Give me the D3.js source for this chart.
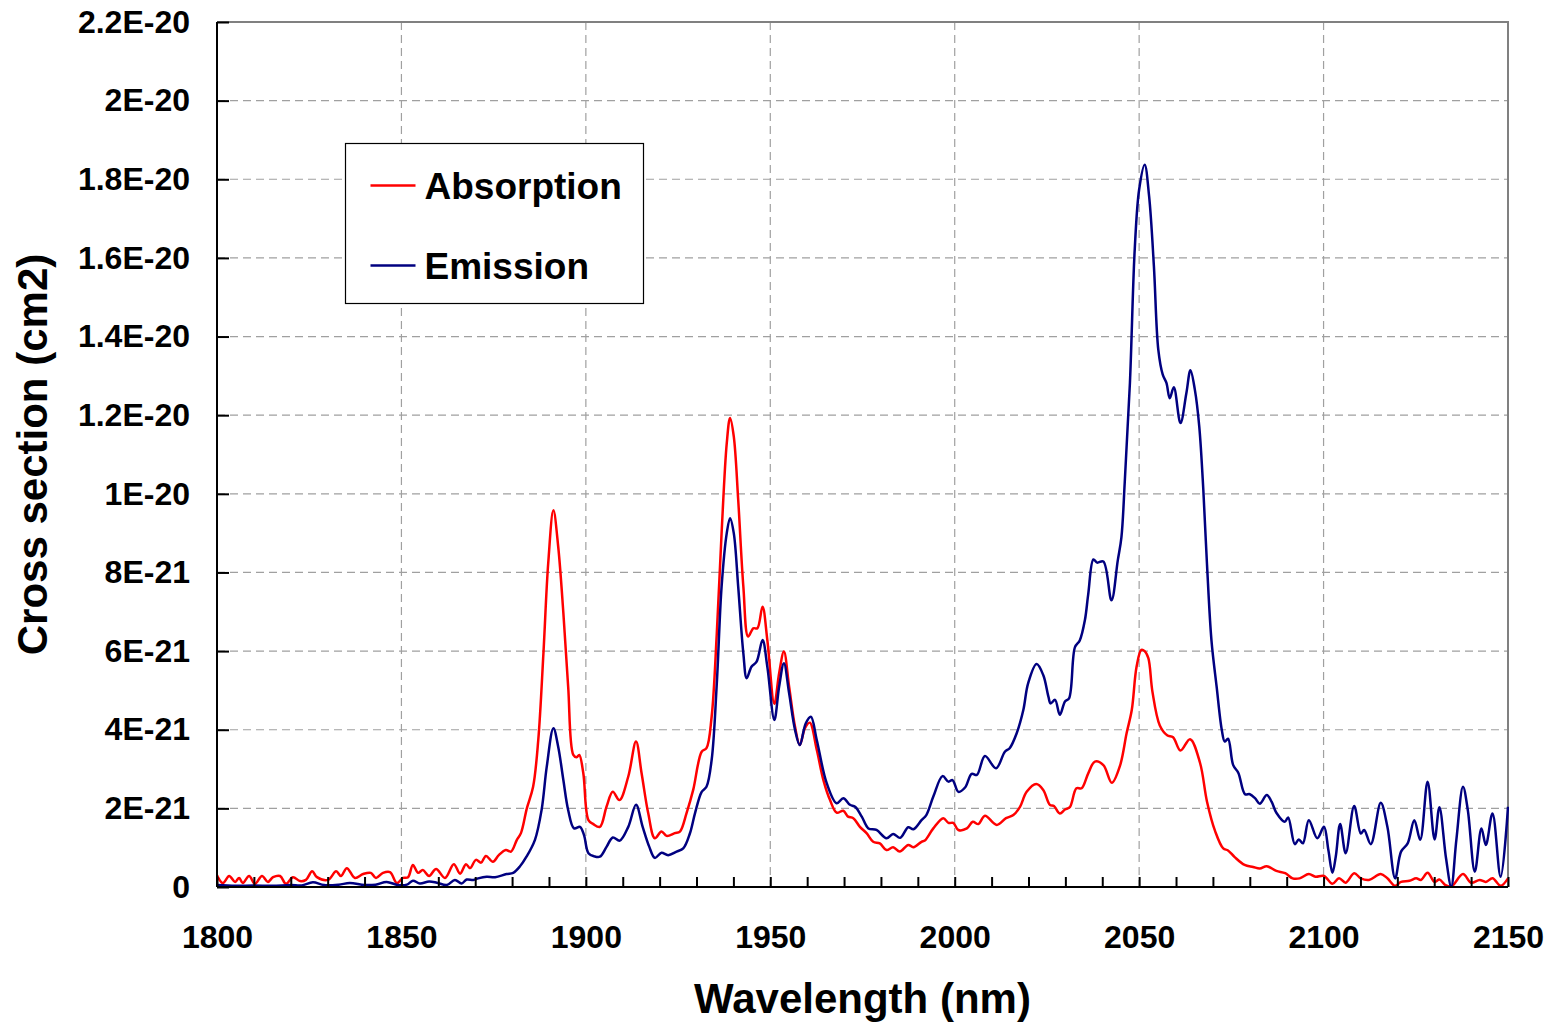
<html>
<head>
<meta charset="utf-8">
<title>Cross section</title>
<style>
body { margin: 0; background: #fff; }
svg { display: block; font-family: "Liberation Sans", Arial, sans-serif; font-weight: bold; }
.grid line { stroke: #a0a0a0; stroke-width: 1.2px; stroke-dasharray: 8,5; }
.axis path, .axis line { stroke: #000; stroke-width: 2px; }
.axis text { font-size: 32px; fill: #000; font-weight: bold; }
.curve { fill: none; stroke-width: 2.5px; stroke-linejoin: round; }
</style>
<script src="https://cdn.jsdelivr.net/npm/d3@7"></script>
</head>
<body>
<div id="chart"></div>
<script>
// values are in units of 1E-21 cm2
var absorption = [[1800,0.30],[1801.6,0.10],[1803.3,0.28],[1804.9,0.13],[1806,0.23],[1807,0.10],[1808.7,0.28],[1810.3,0.08],[1812.2,0.28],[1813.8,0.13],[1815.2,0.25],[1817.1,0.28],[1818.7,0.08],[1820.6,0.25],[1822.5,0.15],[1824.1,0.18],[1825.8,0.40],[1827.1,0.25],[1830.1,0.18],[1832.3,0.40],[1833.6,0.28],[1835.2,0.48],[1837.4,0.23],[1839.6,0.33],[1841.7,0.36],[1843.1,0.23],[1845,0.36],[1846.9,0.38],[1848.8,0.10],[1850.4,0.23],[1851.8,0.25],[1853.1,0.56],[1854.5,0.36],[1855.8,0.43],[1857.5,0.28],[1859.4,0.46],[1861.8,0.23],[1864.2,0.58],[1865.9,0.34],[1867.5,0.58],[1868.6,0.48],[1870.2,0.69],[1871.6,0.62],[1872.9,0.79],[1874.8,0.64],[1876.4,0.81],[1878.3,0.94],[1879.7,0.90],[1881.3,1.2],[1882.4,1.37],[1884,2.0],[1885.7,2.55],[1887.1,3.74],[1888.5,5.95],[1889.8,8.24],[1891.2,9.58],[1892.5,8.66],[1893.9,6.97],[1895.2,5.1],[1896.6,3.36],[1897.5,3.30],[1898.2,3.36],[1899.3,2.9],[1900.7,1.7],[1902,1.6],[1903.8,1.53],[1905.6,2.04],[1907.3,2.42],[1909.1,2.21],[1911.5,2.81],[1913.6,3.7],[1915.1,2.9],[1916.9,1.88],[1918.7,1.24],[1920.5,1.41],[1921.9,1.3],[1924.1,1.37],[1925.5,1.41],[1927.3,1.88],[1929.1,2.47],[1931.4,3.44],[1932.7,3.53],[1934.1,4.33],[1935.5,6.45],[1936.8,9.0],[1938.2,11.29],[1939.1,11.93],[1940.1,11.46],[1941.3,9.85],[1942.7,7.64],[1944,6.37],[1945.4,6.58],[1946.5,6.58],[1947.9,7.13],[1949.2,6.28],[1951.1,4.66],[1952.4,5.44],[1953.7,5.99],[1955.1,5.1],[1956.7,4.08],[1958,3.61],[1959.4,4.04],[1960.7,4.18],[1962.6,3.49],[1964.4,2.72],[1966.2,2.21],[1968,1.89],[1969.8,1.94],[1971.1,1.79],[1972.5,1.75],[1974.3,1.53],[1976.1,1.37],[1977.9,1.15],[1979.7,1.11],[1981.5,0.94],[1983.3,1.01],[1985.1,0.9],[1987.4,1.07],[1988.8,1.01],[1991,1.15],[1991.9,1.18],[1994.2,1.49],[1996.9,1.75],[1998.3,1.63],[1999.6,1.63],[2001,1.45],[2003.3,1.49],[2004.9,1.66],[2006.4,1.6],[2008.2,1.81],[2011.4,1.58],[2013.9,1.75],[2015.9,1.83],[2017.7,2.04],[2019.5,2.42],[2022.1,2.62],[2024,2.47],[2025.8,2.09],[2026.9,2.06],[2028.5,1.87],[2029.9,1.97],[2031.2,2.03],[2033,2.51],[2034.4,2.51],[2036.2,2.89],[2038,3.19],[2040.3,3.1],[2042.6,2.65],[2044.8,3.08],[2046.6,3.91],[2048,4.5],[2049.3,5.6],[2050.6,6.03],[2051.5,6.0],[2052.5,5.82],[2053.6,4.97],[2055.6,4.11],[2057.6,3.86],[2059.2,3.81],[2061.2,3.47],[2063.8,3.76],[2066.5,3.16],[2068.4,2.17],[2070.6,1.42],[2072.8,0.98],[2074.1,0.93],[2075.9,0.76],[2078.6,0.56],[2080.9,0.51],[2082.7,0.47],[2084.6,0.53],[2087.2,0.41],[2089.6,0.35],[2091.6,0.22],[2093.5,0.22],[2096,0.33],[2097.8,0.26],[2100.1,0.28],[2102.4,0.08],[2104.2,0.22],[2106,0.11],[2108.3,0.35],[2110.1,0.22],[2112.3,0.18],[2115.5,0.33],[2117.3,0.22],[2119.4,0.03],[2121,0.13],[2123.3,0.16],[2125.1,0.22],[2126.4,0.18],[2128.2,0.36],[2130.1,0.13],[2131.4,0.19],[2133,0.05],[2134.6,0.01],[2137.8,0.33],[2140,0.11],[2142.3,0.18],[2144,0.13],[2145.8,0.22],[2148,0.03],[2150,0.22]];

var emission = [[1800,0.05],[1805,0.03],[1810,0.04],[1815,0.03],[1820,0.05],[1823,0.04],[1826,0.12],[1829,0.05],[1833,0.06],[1836,0.1],[1840,0.05],[1843,0.06],[1846,0.13],[1849,0.05],[1851.5,0.06],[1853.1,0.16],[1855,0.09],[1857.5,0.14],[1859.6,0.11],[1862.3,0.05],[1864.5,0.18],[1866.3,0.09],[1867.7,0.19],[1869.5,0.18],[1870.8,0.22],[1873.1,0.26],[1875.4,0.25],[1878.5,0.33],[1880.3,0.36],[1882.1,0.52],[1883.9,0.77],[1886.2,1.2],[1888,1.96],[1889.4,3.06],[1891.2,4.04],[1892.5,3.57],[1893.9,2.72],[1895.2,1.96],[1896.8,1.49],[1898.4,1.53],[1899.5,1.32],[1900.7,0.86],[1902.3,0.78],[1903.8,0.77],[1905.6,1.02],[1907.3,1.26],[1909.2,1.18],[1911.5,1.53],[1913.6,2.09],[1915.4,1.53],[1917.2,1.02],[1918.7,0.74],[1920.5,0.87],[1922.3,0.81],[1924.6,0.9],[1926.4,0.98],[1928.2,1.36],[1929.6,1.88],[1931.4,2.42],[1932.7,2.55],[1934.1,3.23],[1935.5,5.18],[1936.8,7.64],[1938.2,9.0],[1939.1,9.38],[1940.1,9.0],[1941.3,7.64],[1942.7,5.94],[1943.6,5.31],[1944.9,5.6],[1946.3,5.73],[1947.9,6.28],[1949.2,5.6],[1951.1,4.25],[1952.4,5.1],[1953.7,5.69],[1955.1,4.93],[1956.7,4.0],[1958,3.61],[1959.6,4.16],[1961,4.33],[1962.6,3.74],[1965.3,2.64],[1968,2.13],[1969.8,2.26],[1971.6,2.09],[1973,2.04],[1974.8,1.79],[1976.6,1.49],[1978.8,1.45],[1981.5,1.24],[1983.3,1.35],[1985.2,1.25],[1987.4,1.52],[1988.8,1.47],[1991,1.7],[1992.3,1.83],[1994.2,2.3],[1996.7,2.82],[1998.3,2.68],[1999.4,2.72],[2001,2.42],[2002.8,2.53],[2004.6,2.88],[2006,2.85],[2008.2,3.33],[2011.2,3.02],[2013.6,3.44],[2014.9,3.53],[2016.8,3.91],[2018.6,4.5],[2019.9,5.18],[2022.2,5.67],[2024,5.39],[2025.4,4.84],[2026,4.67],[2027.2,4.76],[2028.5,4.38],[2029.9,4.72],[2031,4.8],[2032.6,6.1],[2033.9,6.27],[2035.3,6.79],[2036.2,7.45],[2037.6,8.33],[2038.6,8.25],[2040.3,8.28],[2042.5,7.29],[2044.2,8.3],[2045.2,8.9],[2046.1,10.3],[2047.5,12.82],[2048.8,16.21],[2050,17.74],[2051.5,18.37],[2052.7,17.57],[2054,15.79],[2055.2,13.66],[2056.4,13.03],[2057.4,12.82],[2058.3,12.43],[2059.4,12.71],[2061.2,11.8],[2062.8,12.56],[2063.9,13.14],[2065.1,12.65],[2066.3,11.71],[2067.4,10.1],[2068.4,8.2],[2069.6,6.28],[2071,5.1],[2072.4,4.0],[2073.2,3.7],[2074.1,3.77],[2075.5,3.1],[2076.9,2.9],[2078.7,2.36],[2080,2.36],[2081.4,2.26],[2082.7,2.12],[2084.6,2.34],[2085.9,2.17],[2087.2,1.89],[2089.5,1.66],[2090.4,1.77],[2092.2,1.09],[2093.3,1.21],[2094.4,1.11],[2096,1.7],[2098.3,1.24],[2100.1,1.53],[2101.3,0.94],[2102.4,0.36],[2103.3,0.77],[2104.5,1.6],[2106,0.86],[2108.3,2.06],[2110.1,1.36],[2111,1.45],[2112.8,1.09],[2115.5,2.14],[2117.3,1.53],[2119.4,0.22],[2121,0.9],[2122.8,1.11],[2124.6,1.7],[2126.2,1.2],[2128.2,2.68],[2130.1,1.21],[2131.4,2.03],[2133.2,0.73],[2134.6,0.01],[2136,1.2],[2137.8,2.55],[2139.1,1.96],[2141,0.39],[2142.8,1.49],[2144,1.07],[2145.8,1.87],[2148,0.26],[2150,2.04]];

var yTicks = [0, 2, 4, 6, 8, 10, 12, 14, 16, 18, 20, 22];
var yTickLabels = ["0", "2E-21", "4E-21", "6E-21", "8E-21", "1E-20", "1.2E-20", "1.4E-20", "1.6E-20", "1.8E-20", "2E-20", "2.2E-20"];
var xLabelTicks = [1800, 1850, 1900, 1950, 2000, 2050, 2100, 2150];
var xMinorTicks = d3.range(1800, 2151, 10);
var seriesNames = ["Absorption", "Emission"];
var seriesColors = ["#ff0000", "#000080"];

var W = 1557, H = 1024;
var margin = {top: 22, right: 49, bottom: 137, left: 217};
var width = W - margin.left - margin.right;
var height = H - margin.top - margin.bottom;

var x = d3.scaleLinear().domain([1800, 2150]).range([0, width]);
var y = d3.scaleLinear().domain([0, 22]).range([height, 0]);

var svg = d3.select('#chart').append('svg')
	.attr('width', W)
	.attr('height', H);

var g = svg.append('g').attr('transform', 'translate(' + margin.left + ',' + margin.top + ')');

// grid
g.append('g').attr('class', 'grid')
	.selectAll('line.h').data(yTicks.filter(function(d){ return d > 0 && d < 22; }))
	.enter().append('line')
	.attr('x1', 0).attr('x2', width)
	.attr('y1', function(d){ return y(d); }).attr('y2', function(d){ return y(d); });
g.append('g').attr('class', 'grid')
	.selectAll('line.v').data(xLabelTicks.filter(function(d){ return d > 1800 && d < 2150; }))
	.enter().append('line')
	.attr('y1', 0).attr('y2', height)
	.attr('x1', function(d){ return x(d); }).attr('x2', function(d){ return x(d); });

// plot frame (top / right)
g.append('path')
	.attr('d', 'M0,0H' + width + 'V' + height)
	.attr('fill', 'none')
	.attr('stroke', '#808080')
	.attr('stroke-width', 2);

g.append('clipPath').attr('id', 'clip')
	.append('rect').attr('x', 0).attr('y', -2).attr('width', width + 1).attr('height', height + 2);

var line = d3.line()
	.curve(d3.curveCatmullRom.alpha(0.5))
	.x(function(d){ return x(d[0]); })
	.y(function(d){ return y(Math.max(0, d[1])); });

[absorption, emission].forEach(function(s, i){
	g.append('path')
		.datum(s)
		.attr('class', 'curve')
		.attr('clip-path', 'url(#clip)')
		.attr('stroke', seriesColors[i])
		.attr('d', line);
});

// axes
var yAxis = d3.axisLeft(y)
	.tickValues(yTicks)
	.tickSize(-12)
	.tickPadding(27)
	.tickFormat(function(d, i){ return yTickLabels[i]; });
g.append('g').attr('class', 'axis').call(yAxis)
	.call(function(a){ a.select('.domain').attr('d', 'M0,0V' + height); });

var xAxis = d3.axisBottom(x)
	.tickValues(xMinorTicks)
	.tickSize(-10)
	.tickPadding(38)
	.tickFormat(function(d){ return xLabelTicks.indexOf(d) >= 0 ? d : ''; });
g.append('g').attr('class', 'axis')
	.attr('transform', 'translate(0,' + height + ')')
	.call(xAxis)
	.call(function(a){ a.select('.domain').attr('d', 'M0,0H' + width); });

// titles
svg.append('text')
	.attr('x', margin.left + width / 2)
	.attr('y', 1013)
	.attr('text-anchor', 'middle')
	.style('font-size', '42px')
	.text('Wavelength (nm)');
svg.append('text')
	.attr('transform', 'translate(47,' + (margin.top + height / 2) + ') rotate(-90)')
	.attr('text-anchor', 'middle')
	.style('font-size', '42px')
	.text('Cross section (cm2)');

// legend
var legend = svg.append('g').attr('transform', 'translate(345.5,143.5)');
legend.append('rect')
	.attr('width', 298).attr('height', 160)
	.attr('fill', '#fff').attr('stroke', '#000').attr('stroke-width', 1.2);
seriesNames.forEach(function(name, i){
	var ly = 42 + i * 80;
	legend.append('line')
		.attr('x1', 25).attr('x2', 70)
		.attr('y1', ly).attr('y2', ly)
		.attr('stroke', seriesColors[i]).attr('stroke-width', 2.3);
	legend.append('text')
		.attr('x', 79).attr('y', ly + 13)
		.style('font-size', '37px')
		.text(name);
});
</script>
</body>
</html>
